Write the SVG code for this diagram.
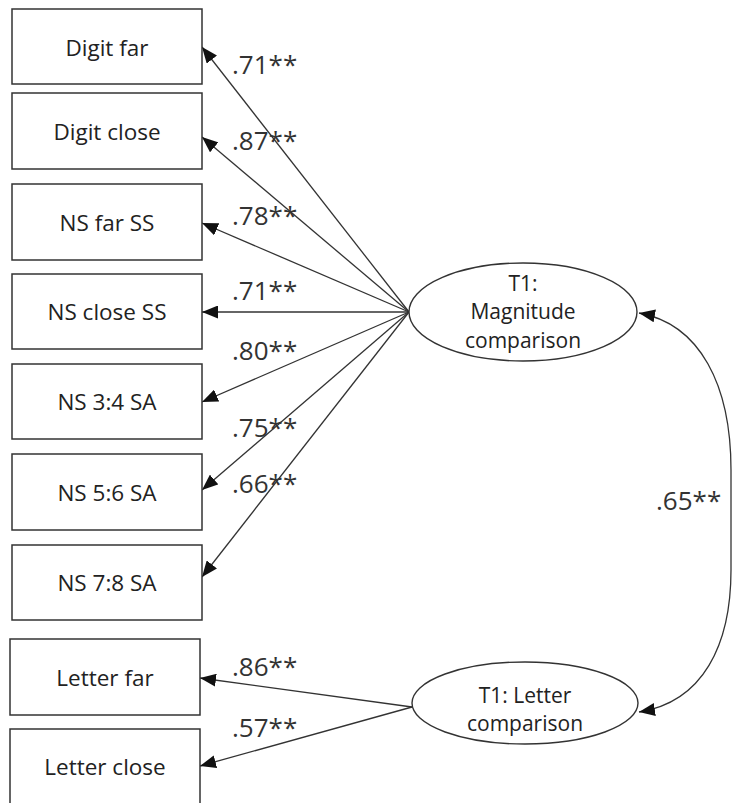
<svg xmlns="http://www.w3.org/2000/svg" width="733" height="803" viewBox="0 0 733 803">
<style>
.box{fill:#fff;stroke:#333;stroke-width:1.5}
.ell{fill:#fff;stroke:#333;stroke-width:1.4}
.t{font-family:"Open Sans","Noto Sans",sans-serif;font-size:22.5px;fill:#222;text-anchor:middle}
.et{font-family:"Open Sans","Noto Sans",sans-serif;font-size:21px;fill:#222;text-anchor:middle}
.lbl{font-family:"Open Sans","Noto Sans",sans-serif;font-size:26px;fill:#333}
.c{fill:none;stroke:#333;stroke-width:1.3}
.a{marker-end:url(#ah)}
</style>
<defs>
<marker id="ah" markerUnits="userSpaceOnUse" markerWidth="16" markerHeight="13" refX="16" refY="6.5" orient="auto">
<path d="M0,0 L16,6.5 L0,13 z" fill="#111"/>
</marker>
</defs>
<rect width="733" height="803" fill="#fff"/>
<g id="connectors">
<line class="c a" x1="409" y1="312" x2="202" y2="47"/>
<line class="c a" x1="409" y1="312" x2="202" y2="137"/>
<line class="c a" x1="409" y1="312" x2="202" y2="223"/>
<line class="c a" x1="409" y1="312" x2="202" y2="312"/>
<line class="c a" x1="409" y1="312" x2="202" y2="402"/>
<line class="c a" x1="409" y1="312" x2="202" y2="490"/>
<line class="c a" x1="409" y1="312" x2="202" y2="577"/>
<line class="c a" x1="412" y1="707" x2="200" y2="678"/>
<line class="c a" x1="412" y1="707" x2="200" y2="766"/>
<path class="c a" d="M731 470 C731 385 700 324 639 313"/>
<path class="c" d="M731 470 L731 570"/>
<path class="c a" d="M731 570 C731 645 703 702 639 712"/>
</g>
<g id="labels">
<text class="lbl" x="232" y="74">.71**</text>
<text class="lbl" x="232" y="150">.87**</text>
<text class="lbl" x="232" y="225">.78**</text>
<text class="lbl" x="232" y="300">.71**</text>
<text class="lbl" x="232" y="360">.80**</text>
<text class="lbl" x="232" y="437">.75**</text>
<text class="lbl" x="232" y="493">.66**</text>
<text class="lbl" x="232" y="676">.86**</text>
<text class="lbl" x="232" y="737">.57**</text>
<text class="lbl" x="656" y="510">.65**</text>
</g>
<g id="digit-far"><rect class="box" x="12" y="9" width="190" height="75"/><text class="t" x="107" y="56">Digit far</text></g>
<g id="digit-close"><rect class="box" x="12" y="93" width="190" height="76"/><text class="t" x="107" y="140">Digit close</text></g>
<g id="ns-far-ss"><rect class="box" x="12" y="184" width="190" height="76"/><text class="t" x="107" y="231">NS far SS</text></g>
<g id="ns-close-ss"><rect class="box" x="12" y="274" width="190" height="75"/><text class="t" x="107" y="320">NS close SS</text></g>
<g id="ns-34-sa"><rect class="box" x="12" y="364" width="190" height="75"/><text class="t" x="107" y="410">NS 3:4 SA</text></g>
<g id="ns-56-sa"><rect class="box" x="12" y="454" width="190" height="76"/><text class="t" x="107" y="501">NS 5:6 SA</text></g>
<g id="ns-78-sa"><rect class="box" x="12" y="545" width="190" height="75"/><text class="t" x="107" y="591">NS 7:8 SA</text></g>
<g id="letter-far"><rect class="box" x="10" y="639" width="190" height="76"/><text class="t" x="105" y="686">Letter far</text></g>
<g id="letter-close"><rect class="box" x="10" y="729" width="190" height="80"/><text class="t" x="105" y="775">Letter close</text></g>
<g id="magnitude"><ellipse class="ell" cx="523" cy="312" rx="114" ry="49"/><text class="et" x="523" y="291">T1:</text><text class="et" x="523" y="319">Magnitude</text><text class="et" x="523" y="348">comparison</text></g>
<g id="letter"><ellipse class="ell" cx="525" cy="703" rx="113" ry="41"/><text class="et" x="525" y="703">T1: Letter</text><text class="et" x="525" y="731">comparison</text></g>
</svg>
